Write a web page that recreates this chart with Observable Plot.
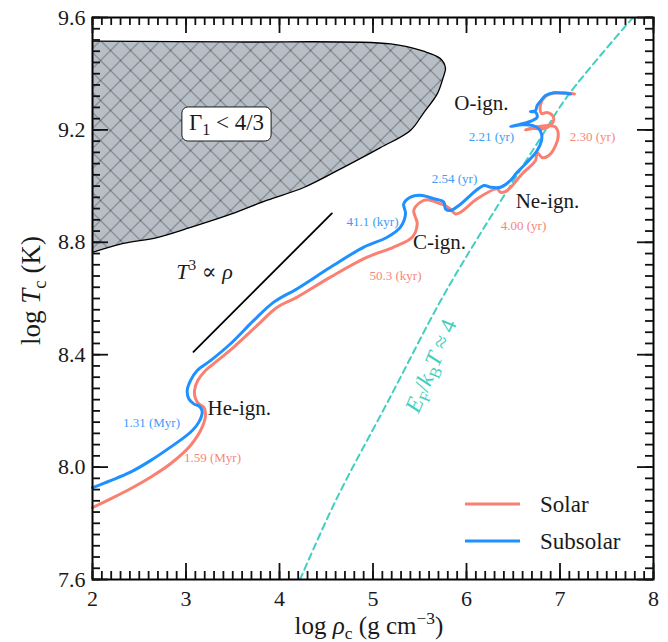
<!DOCTYPE html>
<html>
<head>
<meta charset="utf-8">
<script src="https://cdn.jsdelivr.net/npm/d3@7"></script>
<script src="https://cdn.jsdelivr.net/npm/@observablehq/plot@0.6"></script>
<style>
  body { margin: 0; background: #fff; }
  #chart { position: relative; width: 668px; height: 642px; }
</style>
</head>
<body>
<div id="chart"></div>
<script>
// ---------------- data (log rho_c, log T_c) ----------------
const solarTrack = [
  [2.000,7.856],[2.193,7.887],[2.406,7.923],[2.620,7.964],[2.834,8.012],[3.048,8.077],
  [3.173,8.142],[3.209,8.190],[3.190,8.213],[3.137,8.225],[3.102,8.243],[3.091,8.273],
  [3.126,8.308],[3.209,8.344],[3.297,8.368],[3.511,8.427],[3.761,8.504],[3.975,8.569],
  [4.189,8.605],[4.545,8.676],[4.938,8.747],[5.222,8.783],[5.419,8.818],[5.473,8.866],
  [5.436,8.913],[5.508,8.943],[5.580,8.951],[5.722,8.937],[5.775,8.931],[5.829,8.917],
  [5.882,8.901],[5.936,8.907],[6.114,8.955],[6.328,8.990],[6.364,8.978],[6.435,8.984],
  [6.596,9.044],[6.738,9.091],[6.756,9.120],[6.810,9.101],[6.880,9.109],[6.952,9.144],
  [6.981,9.186],[6.952,9.210],[6.880,9.216],[6.738,9.210],[6.631,9.200],[6.717,9.205],
  [6.813,9.203],[6.898,9.216],[6.934,9.237],[6.909,9.255],[6.856,9.262],[6.802,9.258],
  [6.791,9.290],[6.845,9.319],[6.934,9.331],[7.041,9.331],[7.155,9.328]
];
const subsolarTrack = [
  [2.000,7.927],[2.193,7.952],[2.406,7.982],[2.620,8.023],[2.834,8.071],[3.048,8.124],
  [3.137,8.160],[3.173,8.198],[3.144,8.216],[3.083,8.225],[3.030,8.243],[3.013,8.273],
  [3.048,8.308],[3.120,8.344],[3.262,8.379],[3.476,8.439],[3.725,8.522],[3.939,8.587],
  [4.189,8.635],[4.545,8.711],[4.902,8.783],[5.152,8.818],[5.294,8.854],[5.348,8.901],
  [5.329,8.937],[5.401,8.961],[5.508,8.967],[5.650,8.955],[5.757,8.943],[5.775,8.919],
  [5.829,8.913],[5.918,8.931],[6.185,9.002],[6.257,8.996],[6.364,8.996],[6.471,9.020],
  [6.542,9.049],[6.666,9.091],[6.756,9.127],[6.802,9.162],[6.802,9.186],[6.773,9.204],
  [6.703,9.216],[6.596,9.218],[6.471,9.212],[6.596,9.222],[6.703,9.233],[6.756,9.245],
  [6.738,9.263],[6.684,9.265],[6.738,9.269],[6.756,9.287],[6.791,9.302],[6.845,9.322],
  [6.934,9.332],[7.041,9.331],[7.112,9.328]
];
// Gamma_1 < 4/3 region boundary
const gammaRegion = [
  [2.00,9.516],[3.50,9.513],[5.19,9.506],[5.54,9.480],[5.72,9.454],[5.775,9.420],
  [5.75,9.386],[5.69,9.330],[5.54,9.260],[5.40,9.198],[5.08,9.137],[4.68,9.066],
  [4.26,8.995],[3.87,8.950],[3.48,8.900],[3.05,8.853],[2.69,8.817],[2.33,8.796],
  [2.00,8.764]
];
// E_F / k_B T ~ 4 line
const degeneracyLine = [
  [4.22,7.60],[4.60,7.88],[5.17,8.24],[5.72,8.59],[6.11,8.81],[6.79,9.17],[7.08,9.32],[7.78,9.60]
];
// T^3 ∝ rho guide
const slopeGuide = [[3.08,8.410],[4.56,8.903]];

// annotations
const ignitionLabels = [
  {text: "He-ign.", x: 3.23, y: 8.209, anchor: "start"},
  {text: "C-ign.",  x: 5.711, y: 8.799, anchor: "middle"},
  {text: "Ne-ign.", x: 6.866, y: 8.945, anchor: "middle"},
  {text: "O-ign.",  x: 6.160, y: 9.294, anchor: "middle"}
];
const subsolarTimes = [
  {text: "1.31 (Myr)", x: 2.631, y: 8.159},
  {text: "41.1 (kyr)", x: 4.995, y: 8.874},
  {text: "2.54 (yr)",  x: 5.872, y: 9.027},
  {text: "2.21 (yr)",  x: 6.267, y: 9.177}
];
const solarTimes = [
  {text: "1.59 (Myr)", x: 3.283, y: 8.034},
  {text: "50.3 (kyr)", x: 5.241, y: 8.682},
  {text: "4.00 (yr)",  x: 6.610, y: 8.860},
  {text: "2.30 (yr)",  x: 7.348, y: 9.177}
];
const regionLabel = [{text: "Γ_{1} < 4/3", x: 3.433, y: 9.226}];
const slopeLabel = [{text: "*T*^{3} ∝ *ρ*", x: 3.198, y: 8.696}];
const degenLabel = [{text: "*E*_{F}/*k*_{B}*T* ≈ 4", x: 5.62, y: 8.36}];

const xMajor = [2, 3, 4, 5, 6, 7, 8];
const yMajor = [7.6, 8.0, 8.4, 8.8, 9.2, 9.6];
const xMinor = d3.range(20, 81).map(d => d / 10);
const yMinor = d3.range(190, 241).map(d => d / 25);

const seriesNames = ["Solar", "Subsolar"];
const seriesColors = ["#fa8072", "#1e90ff"];

// ---------------- layout ----------------
const WIDTH = 668, HEIGHT = 642;
const M = {left: 92, right: 15, top: 17, bottom: 63};
const FW = WIDTH - M.left - M.right;
const FH = HEIGHT - M.top - M.bottom;
const FONT = "Liberation Serif, DejaVu Serif, serif";
const ink = "#1a1a1a";
const MAJOR = 16, MINOR = 8;

// inward-pointing ticks on all four sides
const tickMarks = [];
for (const [ticks, size] of [[xMinor, MINOR], [xMajor, MAJOR]]) {
  tickMarks.push(Plot.ruleX(ticks, {x: d => d, insetTop: FH - size, stroke: "#111", strokeWidth: 1.8}));
  tickMarks.push(Plot.ruleX(ticks, {x: d => d, insetBottom: FH - size, stroke: "#111", strokeWidth: 1.8}));
}
for (const [ticks, size] of [[yMinor, MINOR], [yMajor, MAJOR]]) {
  tickMarks.push(Plot.ruleY(ticks, {y: d => d, insetRight: FW - size, stroke: "#111", strokeWidth: 1.8}));
  tickMarks.push(Plot.ruleY(ticks, {y: d => d, insetLeft: FW - size, stroke: "#111", strokeWidth: 1.8}));
}

const plot = Plot.plot({
  width: WIDTH,
  height: HEIGHT,
  marginLeft: M.left,
  marginRight: M.right,
  marginTop: M.top,
  marginBottom: M.bottom,
  style: {fontFamily: FONT},
  x: {domain: [2, 8]},
  y: {domain: [7.6, 9.6]},
  marks: [
    // Gamma region
    Plot.line(gammaRegion, {x: d => d[0], y: d => d[1], fill: "#b7bec6", stroke: "none", curve: "catmull-rom"}),
    Plot.line(gammaRegion, {x: d => d[0], y: d => d[1], fill: "url(#xhatch)", stroke: "none", curve: "catmull-rom"}),
    Plot.line(gammaRegion, {x: d => d[0], y: d => d[1], stroke: "black", strokeWidth: 1.3, curve: "catmull-rom"}),
    // degeneracy line
    Plot.line(degeneracyLine, {x: d => d[0], y: d => d[1], stroke: "#40cfc0", strokeWidth: 2, strokeDasharray: "6.5,4.5", curve: "catmull-rom", clip: true}),
    // slope guide
    Plot.line(slopeGuide, {x: d => d[0], y: d => d[1], stroke: "black", strokeWidth: 1.8}),
    // tracks
    Plot.line(solarTrack, {x: d => d[0], y: d => d[1], stroke: seriesColors[0], strokeWidth: 3, curve: "catmull-rom"}),
    Plot.line(subsolarTrack, {x: d => d[0], y: d => d[1], stroke: seriesColors[1], strokeWidth: 3, curve: "catmull-rom"}),
    // annotations
    Plot.text(ignitionLabels.filter(d => d.anchor === "middle"), {x: "x", y: "y", text: "text", fontSize: 21, fill: ink}),
    Plot.text(ignitionLabels.filter(d => d.anchor === "start"), {x: "x", y: "y", text: "text", fontSize: 21, fill: ink, textAnchor: "start"}),
    Plot.text(subsolarTimes, {x: "x", y: "y", text: "text", fontSize: 13, fill: "#3d9bfa"}),
    Plot.text(solarTimes, {x: "x", y: "y", text: "text", fontSize: 13, fill: "#f5877a"}),
    Plot.text(regionLabel, {x: "x", y: "y", text: "text", fontSize: 23, fill: ink, className: "gamma-label"}),
    Plot.text(slopeLabel, {x: "x", y: "y", text: "text", fontSize: 22, fill: ink}),
    Plot.text(degenLabel, {x: "x", y: "y", text: "text", fontSize: 23, fill: "#40cfc0", rotate: -67}),
    // axis labels
    Plot.axisX(xMajor, {anchor: "bottom", tickSize: 0, tickPadding: 11, fontSize: 22, label: null, tickFormat: d3.format("d"), fill: ink}),
    Plot.axisY(yMajor, {anchor: "left", tickSize: 0, tickPadding: 7, fontSize: 22, label: null, tickFormat: d3.format(".1f"), fill: ink}),
    Plot.text(["log *ρ*_{c} (g cm^{−3})"], {frameAnchor: "bottom", dy: 46, dx: -4, textAnchor: "middle", lineAnchor: "middle", fontSize: 25, fill: ink, text: d => d}),
    Plot.text(["log *T*_{c} (K)"], {frameAnchor: "left", dx: -61, dy: -8, rotate: -90, textAnchor: "middle", lineAnchor: "middle", fontSize: 27, fill: ink, text: d => d}),
    Plot.frame({stroke: "black", strokeWidth: 2}),
    // ticks on top of everything
    ...tickMarks
  ]
});

document.getElementById("chart").appendChild(plot);
const svg = d3.select(plot);

// crosshatch pattern
const HS = 20;
const defs = svg.insert("defs", ":first-child");
const pat = defs.append("pattern").attr("id", "xhatch").attr("patternUnits", "userSpaceOnUse")
  .attr("width", HS).attr("height", HS);
pat.append("path").attr("d", `M0,0L${HS},${HS}M${HS},0L0,${HS}`)
  .attr("stroke", "#55595e").attr("stroke-width", 0.9).attr("fill", "none");

// rich text: *italic*, _{sub}, ^{sup}
function richify(el) {
  const s = el.textContent;
  if (!/[*_^]/.test(s)) return;
  const fs = parseFloat(getComputedStyle(el).fontSize) || 16;
  el.textContent = "";
  const re = /(\*)|([_^])\{([^}]*)\}|([^*_^]+)/g;
  let m, italic = false, cur = 0;
  while ((m = re.exec(s))) {
    if (m[1]) { italic = !italic; continue; }
    const ts = d3.select(el).append("tspan");
    let target = 0, txt;
    if (m[2]) {
      target = m[2] === "_" ? 0.22 * fs : -0.38 * fs;
      txt = m[3];
      ts.attr("font-size", 0.7 * fs);
    } else {
      txt = m[4];
    }
    if (target !== cur) ts.attr("dy", target - cur);
    cur = target;
    if (italic) ts.attr("font-style", "italic");
    ts.text(txt);
  }
}
svg.selectAll("text").each(function() { richify(this); });

// rounded box around the Gamma label
svg.selectAll(".gamma-label text").each(function() {
  const bb = this.getBBox();
  const padX = 7, padY = 3;
  d3.select(this.parentNode).insert("rect", () => this)
    .attr("transform", this.getAttribute("transform"))
    .attr("x", bb.x - padX).attr("y", bb.y - padY)
    .attr("width", bb.width + 2 * padX).attr("height", bb.height + 2 * padY)
    .attr("rx", 6).attr("fill", "white").attr("stroke", ink).attr("stroke-width", 1);
});

// legend (inside plot, lower right)
const legend = svg.append("g").attr("transform", "translate(465,504)")
  .attr("font-family", FONT).attr("font-size", 23).attr("fill", ink).attr("text-anchor", "start");
seriesNames.forEach((name, i) => {
  const g = legend.append("g").attr("transform", `translate(0,${i * 37})`);
  g.append("line").attr("x1", 0).attr("x2", 55).attr("y1", 0).attr("y2", 0)
    .attr("stroke", seriesColors[i]).attr("stroke-width", 3);
  g.append("text").attr("x", 75).attr("y", 0).attr("dy", "0.35em").text(name);
});
</script>
</body>
</html>
